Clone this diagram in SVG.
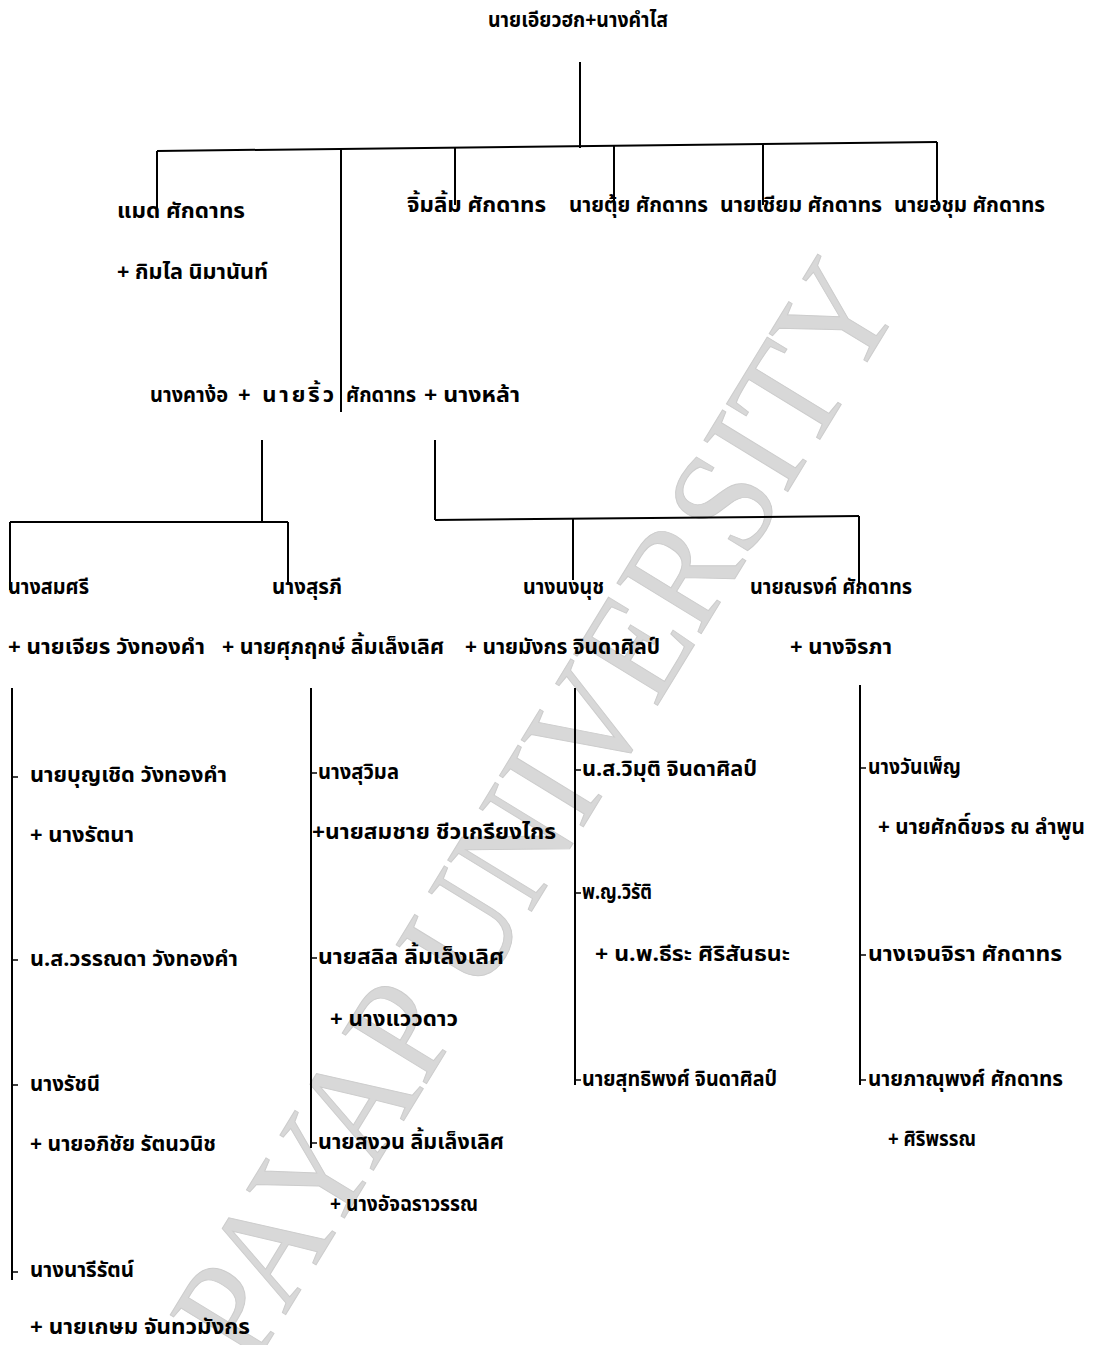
<svg xmlns="http://www.w3.org/2000/svg" width="1099" height="1345" viewBox="0 0 1099 1345">
<style>
  text.t { font-family: "Noto Sans Thai", "Loma", "Garuda", "Noto Sans", "DejaVu Sans", sans-serif; font-size: 22px; font-weight: bold; fill: #000; }
  .ln { stroke: #000; stroke-width: 2; fill: none; }
  .tk { stroke: #000; stroke-width: 1.5; fill: none; }
  .wm { font-family: "Liberation Serif", serif; font-size: 150px; fill: #d8d8d8; stroke: #cccccc; stroke-width: 1; }
</style>
<rect width="1099" height="1345" fill="#fff"/>
<g id="watermark">
  <text class="wm" transform="translate(535,810) rotate(-58.6)" text-anchor="middle" y="50" textLength="1250" lengthAdjust="spacingAndGlyphs">PAYAP UNIVERSITY</text>
</g>
<g id="connectors">
  <path class="ln" d="M580 62 V148"/>
  <path class="ln" d="M157 151 L937 142"/>
  <path class="ln" d="M157 151 V214"/>
  <path class="ln" d="M341 149 V412"/>
  <path class="ln" d="M455 147 V205"/>
  <path class="ln" d="M614 146 V205"/>
  <path class="ln" d="M763 144 V205"/>
  <path class="ln" d="M937 142 V205"/>
  <path class="ln" d="M262 440 V522"/>
  <path class="ln" d="M10 522 H288"/>
  <path class="ln" d="M10 522 V590"/>
  <path class="ln" d="M288 522 V585"/>
  <path class="ln" d="M435 440 V520"/>
  <path class="ln" d="M435 520 L859 516"/>
  <path class="ln" d="M573 519 V580"/>
  <path class="ln" d="M859 516 V585"/>
  <path class="ln" d="M12 688 V1280"/>
  <path class="tk" d="M12 777 H18 M12 960 H18 M12 1085 H18 M12 1272 H18"/>
  <path class="ln" d="M311 688 V1148"/>
  <path class="tk" d="M311 773 H317 M311 958 H317 M311 1143 H317"/>
  <path class="ln" d="M575 688 V1085"/>
  <path class="tk" d="M575 770 H581 M575 893 H581 M575 1080 H581"/>
  <path class="ln" d="M860 685 V1085"/>
  <path class="tk" d="M860 768 H866 M860 955 H866 M860 1080 H866"/>
</g>
<g id="n-root"><text class="t" x="488" y="27" textLength="180" lengthAdjust="spacingAndGlyphs">นายเอียวฮก+นางคำไส</text></g>
<g id="n-maed"><text class="t" x="117" y="218" textLength="128" lengthAdjust="spacingAndGlyphs">แมด ศักดาทร</text></g>
<g id="n-maed-sp"><text class="t" x="117" y="279" textLength="151" lengthAdjust="spacingAndGlyphs">+ กิมไล นิมานันท์</text></g>
<g id="n-jimlim"><text class="t" x="407" y="212" textLength="139" lengthAdjust="spacingAndGlyphs">จิ้มลิ้ม  ศักดาทร</text></g>
<g id="n-tui"><text class="t" x="569" y="212" textLength="139" lengthAdjust="spacingAndGlyphs">นายตุ้ย ศักดาทร</text></g>
<g id="n-chiam"><text class="t" x="720" y="212" textLength="162" lengthAdjust="spacingAndGlyphs">นายเชียม ศักดาทร</text></g>
<g id="n-achum"><text class="t" x="894" y="212" textLength="151" lengthAdjust="spacingAndGlyphs">นายอชุม ศักดาทร</text></g>
<g id="n-riw">
  <text class="t" x="150" y="402" textLength="78" lengthAdjust="spacingAndGlyphs">นางคาง้อ</text>
  <text class="t" x="238" y="402" textLength="96" lengthAdjust="spacing">+ นายริ้ว</text>
  <text class="t" x="346" y="402" textLength="70" lengthAdjust="spacingAndGlyphs">ศักดาทร</text>
  <text class="t" x="424" y="402" textLength="96" lengthAdjust="spacingAndGlyphs">+ นางหล้า</text>
</g>
<g id="n-somsri"><text class="t" x="8" y="594" textLength="81" lengthAdjust="spacingAndGlyphs">นางสมศรี</text><text class="t" x="8" y="654" textLength="197" lengthAdjust="spacingAndGlyphs">+ นายเจียร วังทองคำ</text></g>
<g id="n-suraphi"><text class="t" x="272" y="594" textLength="70" lengthAdjust="spacingAndGlyphs">นางสุรภี</text><text class="t" x="222" y="654" textLength="222" lengthAdjust="spacingAndGlyphs">+ นายศุภฤกษ์ ลิ้มเล็งเลิศ</text></g>
<g id="n-nongnuch"><text class="t" x="523" y="594" textLength="81" lengthAdjust="spacingAndGlyphs">นางนงนุช</text><text class="t" x="465" y="654" textLength="195" lengthAdjust="spacingAndGlyphs">+ นายมังกร จินดาศิลป์</text></g>
<g id="n-narong"><text class="t" x="750" y="594" textLength="162" lengthAdjust="spacingAndGlyphs">นายณรงค์ ศักดาทร</text><text class="t" x="790" y="654" textLength="102" lengthAdjust="spacingAndGlyphs">+ นางจิรภา</text></g>
<g id="n-boonchoed"><text class="t" x="30" y="782" textLength="197" lengthAdjust="spacingAndGlyphs">นายบุญเชิด  วังทองคำ</text><text class="t" x="30" y="842" textLength="104" lengthAdjust="spacingAndGlyphs">+ นางรัตนา</text></g>
<g id="n-wanda"><text class="t" x="30" y="966" textLength="208" lengthAdjust="spacingAndGlyphs">น.ส.วรรณดา วังทองคำ</text></g>
<g id="n-ratchanee"><text class="t" x="30" y="1091" textLength="70" lengthAdjust="spacingAndGlyphs">นางรัชนี</text><text class="t" x="30" y="1151" textLength="186" lengthAdjust="spacingAndGlyphs">+ นายอภิชัย รัตนวนิช</text></g>
<g id="n-nareerat"><text class="t" x="30" y="1277" textLength="104" lengthAdjust="spacingAndGlyphs">นางนารีรัตน์</text><text class="t" x="30" y="1334" textLength="220" lengthAdjust="spacingAndGlyphs">+ นายเกษม  จันทวมังกร</text></g>
<g id="n-suwimon"><text class="t" x="318" y="779" textLength="81" lengthAdjust="spacingAndGlyphs">นางสุวิมล</text><text class="t" x="312" y="839" textLength="244" lengthAdjust="spacingAndGlyphs">+นายสมชาย  ชีวเกรียงไกร</text></g>
<g id="n-salil"><text class="t" x="318" y="964" textLength="186" lengthAdjust="spacingAndGlyphs">นายสลิล  ลิ้มเล็งเลิศ</text><text class="t" x="330" y="1026" textLength="128" lengthAdjust="spacingAndGlyphs">+ นางแววดาว</text></g>
<g id="n-sanguan"><text class="t" x="318" y="1149" textLength="186" lengthAdjust="spacingAndGlyphs">นายสงวน ลิ้มเล็งเลิศ</text><text class="t" x="330" y="1211" textLength="148" lengthAdjust="spacingAndGlyphs">+ นางอัจฉราวรรณ</text></g>
<g id="n-wimut"><text class="t" x="582" y="776" textLength="175" lengthAdjust="spacingAndGlyphs">น.ส.วิมุติ จินดาศิลป์</text></g>
<g id="n-wirat"><text class="t" x="582" y="899" textLength="70" lengthAdjust="spacingAndGlyphs">พ.ญ.วิรัติ</text><text class="t" x="595" y="961" textLength="195" lengthAdjust="spacingAndGlyphs">+ น.พ.ธีระ ศิริสันธนะ</text></g>
<g id="n-sutthiphong"><text class="t" x="582" y="1086" textLength="195" lengthAdjust="spacingAndGlyphs">นายสุทธิพงศ์ จินดาศิลป์</text></g>
<g id="n-wanphen"><text class="t" x="868" y="774" textLength="93" lengthAdjust="spacingAndGlyphs">นางวันเพ็ญ</text><text class="t" x="878" y="834" textLength="207" lengthAdjust="spacingAndGlyphs">+ นายศักดิ์ขจร ณ ลำพูน</text></g>
<g id="n-jenjira"><text class="t" x="868" y="961" textLength="194" lengthAdjust="spacingAndGlyphs">นางเจนจิรา ศักดาทร</text></g>
<g id="n-phanuphong"><text class="t" x="868" y="1086" textLength="195" lengthAdjust="spacingAndGlyphs">นายภาณุพงศ์ ศักดาทร</text><text class="t" x="888" y="1146" textLength="88" lengthAdjust="spacingAndGlyphs">+ ศิริพรรณ</text></g>
</svg>
